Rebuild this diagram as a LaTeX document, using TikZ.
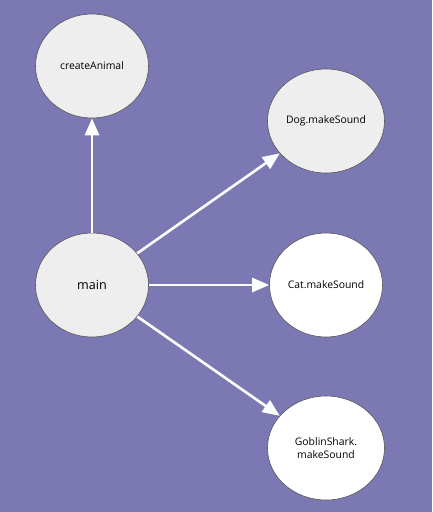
\documentclass[tikz,border=0pt]{standalone}
\usepackage{fontspec}
\setmainfont{Open Sans}
\usetikzlibrary{shapes.geometric,arrows.meta}
\definecolor{bgpurple}{HTML}{7B78B4}
\definecolor{nodegray}{HTML}{EEEEEE}
\definecolor{edgegray}{HTML}{555555}
\tikzset{
  func/.style={ellipse, draw=edgegray, line width=0.6pt, fill=nodegray,
    minimum width=113pt, minimum height=104pt, inner sep=0pt,
    font=\fontsize{10.4}{12.5}\selectfont, align=center},
  call/.style={draw=white, line width=2.6pt, -{Triangle[length=17pt,width=14pt]}}
}
\begin{document}
\begin{tikzpicture}[x=1pt,y=-1pt]
            % background
            \fill[bgpurple] (0,0) rectangle (432,512);
            \useasboundingbox (0,0) rectangle (432,512);

            % functions
            \node[func] (create) at (92,66) {createAnimal};
            \node[func, font=\fontsize{12.6}{14}\selectfont] (main) at (92,285) {main};
            \node[func, minimum width=117pt] (dog) at (326,121) {Dog.makeSound};
            \node[func, fill=white] (cat) at (326,285) {Cat.makeSound};
            \node[func, fill=white, minimum width=117pt] (shark) at (326,448) {GoblinShark.\\makeSound};

            % calls
            \draw[call] (main) -- (create);
            \draw[call] (main) -- (dog);
            \draw[call] (main) -- (cat);
            \draw[call] (main) -- (shark);

        \end{tikzpicture}
\end{document}
